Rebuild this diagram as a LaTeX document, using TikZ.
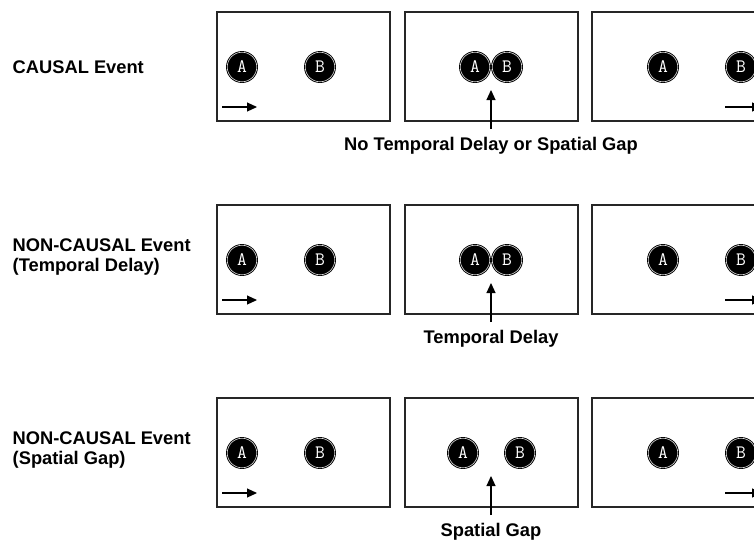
\documentclass[tikz,border=0pt]{standalone}
\usepackage{fontspec}
\setmainfont{Liberation Sans}
\usetikzlibrary{arrows.meta}
\tikzset{
  panel/.style={draw=black!85, line width=1.2pt},
  ball/.style={circle, fill=black, draw=black, double=white!85!black, double distance=0.6pt, line width=0.9pt,
    minimum size=29.5pt, inner sep=0pt, text=white, font=\ttfamily\fontsize{19}{19}\selectfont},
  motion/.style={line width=1.1pt, -{Triangle[length=10pt,width=9pt]}},
  rowlabel/.style={anchor=west, align=left, font=\bfseries\fontsize{18.3}{20}\selectfont, inner sep=0pt},
  gaplabel/.style={anchor=north, font=\bfseries\fontsize{18.3}{20}\selectfont, inner sep=0pt}
}
\begin{document}
\begin{tikzpicture}[x=1pt,y=-1pt]
\useasboundingbox (0,0) rectangle (754,539);
\clip (0,0) rectangle (754,539);
% row labels
\node[rowlabel] (l1) at (12.5,67) {CAUSAL Event};
\node[rowlabel] (l2) at (12.5,257) {NON-CAUSAL Event\\(Temporal Delay)};
\node[rowlabel] (l3) at (12.5,450) {NON-CAUSAL Event\\(Spatial Gap)};
\foreach \r/\ax/\bx/\lab in {0/475/507/{No Temporal Delay or Spatial Gap}, 1/475/507/{Temporal Delay}, 2/463/520/{Spatial Gap}}{
  \pgfmathsetmacro{\dy}{193*\r}
  \begin{scope}[yshift=-\dy pt]
    % panels
    \draw[panel] (217,12) rectangle (390,121);
    \draw[panel] (405,12) rectangle (578,121);
    \draw[panel] (592,12) rectangle (765,121);
    % panel 1
    \node[ball] (a1\r) at (242,67) {A};
    \node[ball] (b1\r) at (320,67) {B};
    \coordinate (s1\r) at (222,107);
    \coordinate (e1\r) at (257,107);
    \draw[motion] (s1\r) -- (e1\r);
    % panel 2
    \node[ball] (b2\r) at (\bx,67) {B};
    \node[ball] (a2\r) at (\ax,67) {A};
    \coordinate (t\r) at (491,90);
    \node[gaplabel] (g\r) at (491,137) {\lab};
    \draw[motion] (491,129) -- (t\r);
    % panel 3
    \node[ball] (a3\r) at (663,67) {A};
    \node[ball] (b3\r) at (741,67) {B};
    \coordinate (s3\r) at (725,107);
    \coordinate (e3\r) at (762,107);
    \draw[motion] (s3\r) -- (e3\r);
  \end{scope}
}
\end{tikzpicture}
\end{document}
